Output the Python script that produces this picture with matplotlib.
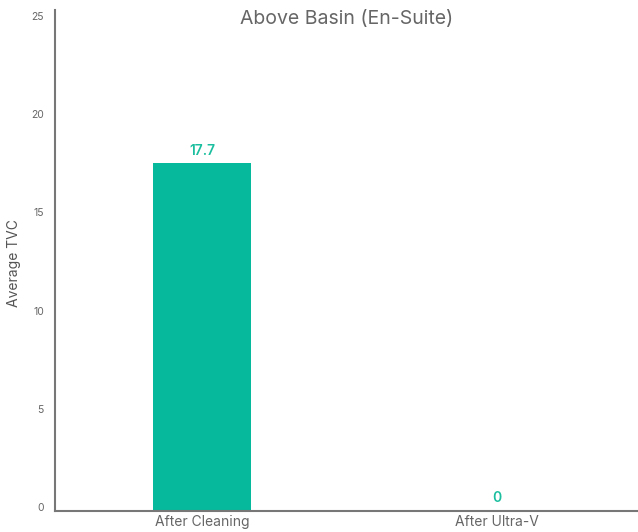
import matplotlib.pyplot as plt
from matplotlib.transforms import ScaledTranslation

# data
categories = ['After Cleaning', 'After Ultra-V']
values = [17.7, 0]
yticks = [0, 5, 10, 15, 20, 25]

plt.rcParams['font.family'] = ['Inter', 'DejaVu Sans']

fig = plt.figure(figsize=(6.38, 5.32), dpi=100)
ax = fig.add_axes([0.086, 0.039, 0.914, 0.942])

bars = ax.bar(range(len(categories)), values, width=0.335, color='#06b89c', zorder=2)

# value labels above the bars
for x, v in enumerate(values):
    ax.text(x, v + 0.3, f'{v:g}', ha='center', va='bottom', color='#1bbf9f',
            fontsize=10, fontweight='semibold')

ax.set_xlim(-0.5, 1.48)
ax.set_ylim(0, 25.5)
ax.set_xticks(range(len(categories)))
ax.set_xticklabels(categories, fontsize=10, color='#666666')
ax.set_yticks(yticks)
ax.set_yticklabels([str(t) for t in yticks], fontsize=7.5, color='#666666')
ax.tick_params(axis='both', length=0)
ax.tick_params(axis='y', pad=8)
ax.tick_params(axis='x', pad=3)
# nudge y tick labels up a little, like the original
shift = ScaledTranslation(0, 3 / 72, fig.dpi_scale_trans)
for lbl in ax.get_yticklabels():
    lbl.set_transform(lbl.get_transform() + shift)

for s in ['top', 'right']:
    ax.spines[s].set_visible(False)
for s in ['left', 'bottom']:
    ax.spines[s].set_color('#777777')
    ax.spines[s].set_linewidth(1.5)

ax.set_ylabel('Average TVC', fontsize=10, color='#555555')
ax.yaxis.set_label_coords(-0.058, 0.495)
ax.set_title('Above Basin (En-Suite)', fontsize=14, color='#666666', y=0.955)

fig.savefig('out.png', dpi=100)
